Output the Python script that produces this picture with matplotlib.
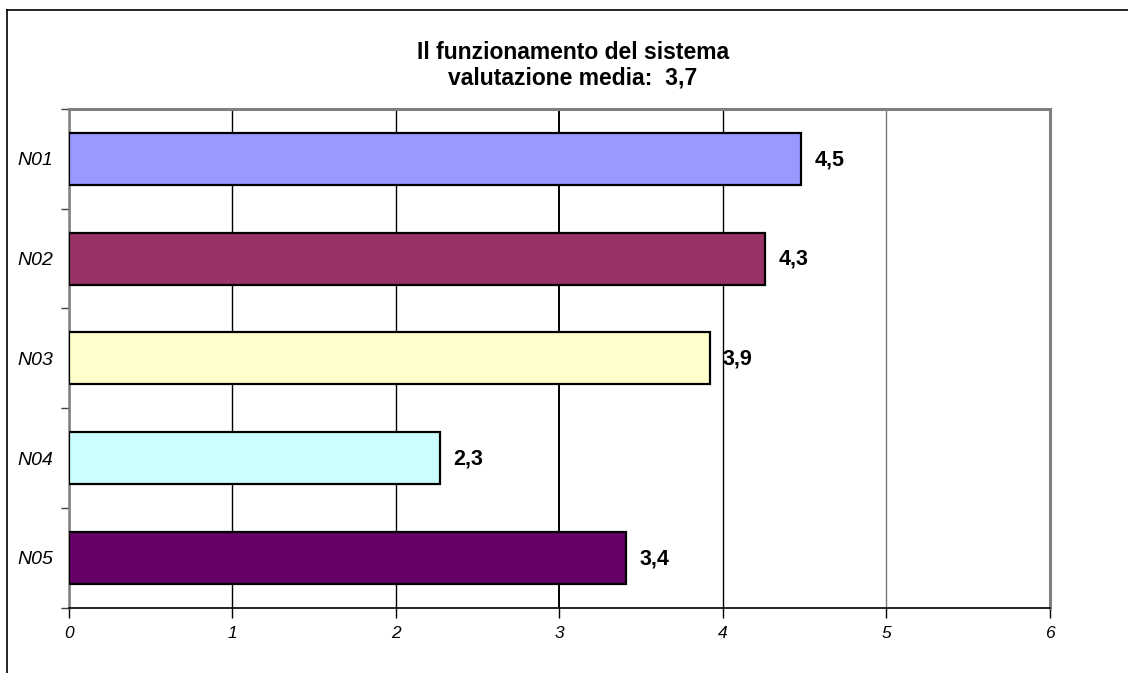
import matplotlib
matplotlib.use("Agg")
import matplotlib.pyplot as plt
from matplotlib.lines import Line2D

categories = ["N01", "N02", "N03", "N04", "N05"]
values = [4.48, 4.26, 3.92, 2.27, 3.41]
colors = ["#9999FF", "#993366", "#FFFFCC", "#CCFFFF", "#660066"]
xticks = [0, 1, 2, 3, 4, 5, 6]
title_lines = ["Il funzionamento del sistema", "valutazione media:  3,7"]

plt.rcParams['font.family'] = ['Liberation Sans', 'DejaVu Sans']

W, H = 1128, 673
fig = plt.figure(figsize=(W / 100, H / 100), dpi=100)
ax = fig.add_axes([69 / W, 1 - 607.7 / H, (1049.7 - 69) / W, (607.7 - 109) / H])

ypos = list(range(len(categories)))
ax.set_axisbelow(True)
ax.barh(ypos, values, height=0.52, color=colors, edgecolor="black", linewidth=1.6, zorder=3)

for y, v in zip(ypos, values):
    ax.annotate(f"{v:.1f}".replace(".", ","), xy=(v, y), xytext=(9.5, -0.5),
                textcoords="offset points", ha="left", va="center",
                fontsize=15.5, fontweight="bold", color="black", zorder=4)

ax.set_xlim(0, 6)
ax.set_ylim(len(categories) - 0.5, -0.5)
ax.set_xticks(xticks)
ax.set_xticklabels([str(t) for t in xticks], fontsize=12.5, fontstyle="italic")
ax.set_yticks(ypos)
ax.set_yticklabels(categories, fontsize=14, fontstyle="italic")
ax.set_yticks([i - 0.5 for i in range(len(categories) + 1)], minor=True)
ax.tick_params(axis="y", which="major", length=0, pad=11.5)
ax.tick_params(axis="y", which="minor", length=6, width=1, color="#404040", direction="out")
ax.tick_params(axis="x", which="major", length=7, width=1, color="black", direction="out", pad=6)

ax.xaxis.grid(True, color="black", linewidth=1.0)
gl = ax.get_xgridlines()
for i, g in enumerate(gl):
    if xticks[i] in (5, 6):
        g.set_color("#777777")
    if xticks[i] == 3:
        g.set_linewidth(1.4)
ax.yaxis.grid(False)

for s in ("top", "right"):
    ax.spines[s].set_color("#808080")
    ax.spines[s].set_linewidth(2.2)
ax.spines["left"].set_color("#808080")
ax.spines["left"].set_linewidth(1.8)
ax.spines["bottom"].set_color("black")
ax.spines["bottom"].set_linewidth(1.2)

fig.text(573 / W, 1 - 59 / H, title_lines[0], ha="center", va="baseline",
         fontsize=16.5, fontweight="bold")
fig.text(573 / W, 1 - 85 / H, title_lines[1], ha="center", va="baseline",
         fontsize=16.5, fontweight="bold")

# outer frame (left and top edges)
fig.add_artist(Line2D([7 / W, 7 / W], [0, 1 - 10 / H], color="black", linewidth=1.2,
                      transform=fig.transFigure))
fig.add_artist(Line2D([7 / W, 1], [1 - 10 / H, 1 - 10 / H], color="black", linewidth=1.2,
                      transform=fig.transFigure))

fig.savefig("out.png", dpi=100)
